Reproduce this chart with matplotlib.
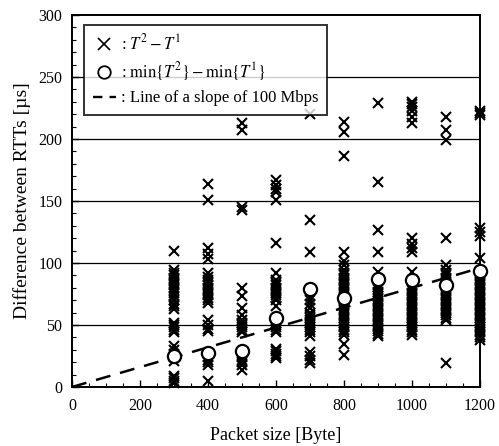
import matplotlib
matplotlib.use("Agg")
import matplotlib.pyplot as plt
from matplotlib.lines import Line2D

plt.rcParams["font.family"] = ["Liberation Serif", "DejaVu Serif"]
plt.rcParams["mathtext.fontset"] = "stix"

# RTT differences T2 - T1 per packet size [us]
sizes = [300, 400, 500, 600, 700, 800, 900, 1000, 1100, 1200]
diff_300 = [110, 94, 92, 90, 88, 86, 84, 82, 80, 78, 76, 73, 70, 67, 65, 63,
            52, 50, 48, 46, 44, 33, 30, 27, 24, 21, 9, 7, 5, 3]
diff_400 = [164, 151, 112, 107, 103, 92, 89, 86, 84, 82, 80, 78, 76, 74, 72,
            70, 68, 54, 50, 47, 45, 24, 22, 20, 18, 5]
diff_500 = [213, 207, 145, 143, 80, 73, 64, 58, 54, 52, 50, 48, 46, 44,
            26, 24, 22, 20, 18, 14]
diff_600 = [167, 163, 160, 157, 151, 116, 92, 86, 84, 82, 80, 78, 76, 74, 72,
            70, 65, 54, 52, 50, 48, 46, 44, 31, 29, 27, 25, 23]
diff_700 = [220, 135, 109, 73, 70, 67, 64, 60, 58, 56, 54, 52, 50, 48, 46,
            44, 41, 28, 25, 22, 19]
diff_800 = [214, 206, 186, 109, 102, 98, 94, 92, 90, 88, 86, 84, 82, 80, 78,
            76, 74, 72, 70, 68, 66, 64, 62, 60, 58, 56, 54, 52, 50, 48, 46,
            44, 42, 35, 26]
diff_900 = [229, 165, 127, 109, 93, 83, 81, 79, 77, 75, 73, 71, 69, 67, 65,
            63, 61, 59, 57, 55, 53, 51, 49, 47, 45, 43, 41]
diff_1000 = [230, 228, 226, 223, 218, 213, 120, 115, 112, 109, 93, 82, 80, 78,
             76, 74, 72, 70, 68, 66, 64, 62, 60, 58, 56, 54, 52, 50, 48, 46,
             44, 42]
diff_1100 = [218, 207, 199, 120, 98, 94, 92, 90, 88, 86, 84, 82, 80, 78, 76,
             74, 72, 70, 68, 66, 64, 62, 60, 58, 56, 54, 19]
diff_1200 = [223, 221, 219, 128, 125, 122, 104, 92, 90, 88, 86, 84, 82, 80, 78,
             76, 74, 72, 70, 68, 66, 64, 62, 60, 58, 56, 54, 52, 50, 48, 46,
             44, 42, 40, 38]
all_diffs = [diff_300, diff_400, diff_500, diff_600, diff_700, diff_800,
             diff_900, diff_1000, diff_1100, diff_1200]

# min{T2} - min{T1}
min_diff = [25, 27.5, 29, 56, 79, 72, 87.5, 86, 82, 93.8]

# reference line: 100 Mbps -> 8 bits / 100 Mbps = 0.08 us per byte
rate_mbps = 100
line_x = [0, 1200]

fig = plt.figure(figsize=(4.99, 4.46), dpi=100)
ax = fig.add_axes([0.1443, 0.1323, 0.8176, 0.834])

for y in [50, 100, 150, 200, 250]:
    ax.axhline(y, color="black", lw=0.9, zorder=1)

for s, d in zip(sizes, all_diffs):
    ax.plot([s] * len(d), d, "x", color="black", ms=7, mew=1.5,
            clip_on=False, zorder=3)

slope = 8 / rate_mbps
ax.plot(line_x, [slope * v for v in line_x], color="black", lw=1.8,
        dashes=(6, 4), zorder=4)

ax.plot(sizes, min_diff, "o", ms=9.5, mfc="white", mec="black", mew=1.6,
        clip_on=False, zorder=5)

ax.set_xlim(0, 1200)
ax.set_ylim(0, 300)
ax.set_xticks(range(0, 1201, 200))
ax.set_xticks(range(0, 1201, 50), minor=True)
ax.set_yticks(range(0, 301, 50))
ax.set_yticks(range(0, 301, 10), minor=True)
ax.tick_params(direction="in", labelsize=11.5, length=5, width=1,
               top=False, right=False)
ax.tick_params(which="minor", direction="in", length=3, width=0.8,
               top=False, right=False)
ax.tick_params(axis="x", pad=8)
ax.tick_params(axis="y", pad=7)
for sp in ax.spines.values():
    sp.set_linewidth(1.4)

ax.set_xlabel("Packet size [Byte]", fontsize=13, labelpad=9)
ax.set_ylabel("Difference between RTTs [\u00b5s]", fontsize=14, labelpad=5)

handles = [
    Line2D([], [], ls="none", marker="x", color="black", ms=8, mew=1.2),
    Line2D([], [], ls="none", marker="o", mfc="white", mec="black", ms=9, mew=1.3),
    Line2D([], [], color="black", lw=1.7, dashes=(4, 3)),
]
labels = [
    ": $T^2 - T^1$",
    ": $\\mathrm{min}\\{T^2\\} - \\mathrm{min}\\{T^1\\}$",
    ": Line of a slope of 100 Mbps",
]
leg = ax.legend(handles, labels, loc="upper left", bbox_to_anchor=(0.03, 0.973),
                fontsize=12, frameon=True, fancybox=False, edgecolor="black",
                handlelength=1.4, handletextpad=0.3, borderpad=0.5,
                labelspacing=0.42, borderaxespad=0)
leg.get_frame().set_linewidth(1.4)
leg.set_zorder(10)

fig.savefig("out.png", dpi=100)
